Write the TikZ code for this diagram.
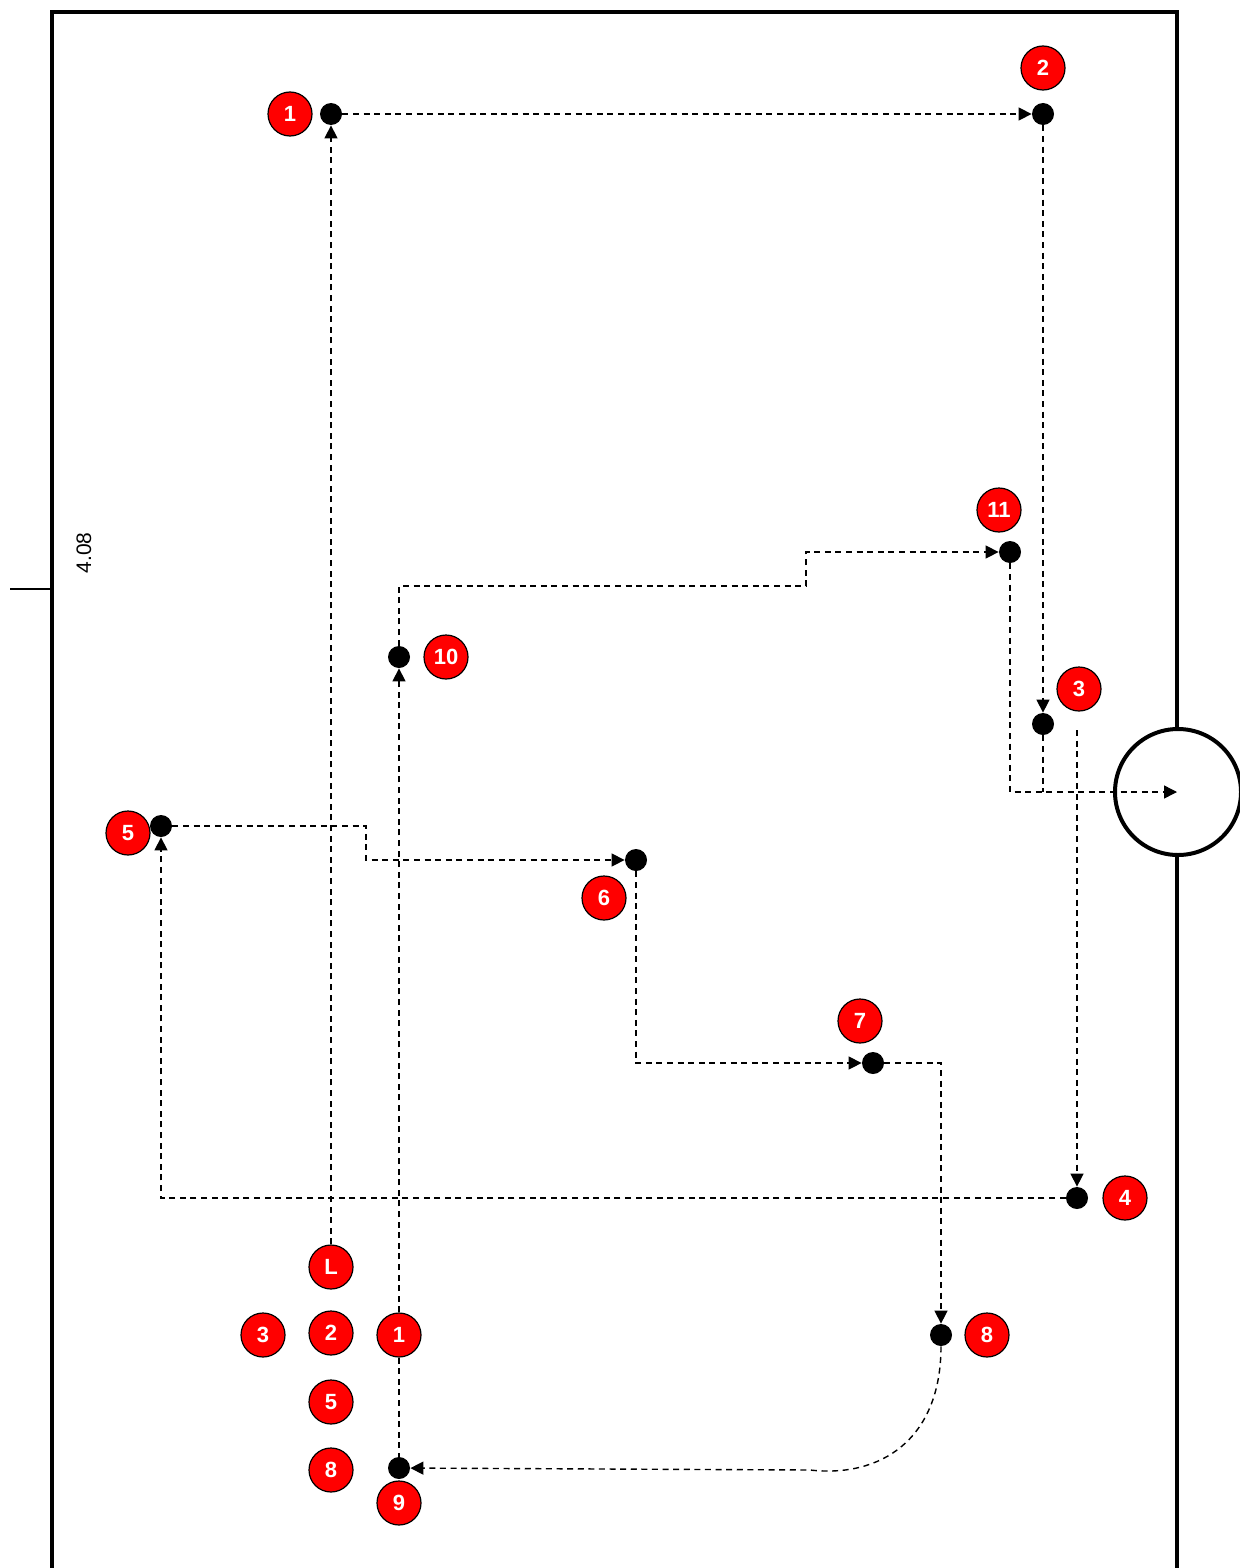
\documentclass[tikz,border=0pt]{standalone}
\usepackage{fontspec}
\setmainfont{Liberation Sans}
\usetikzlibrary{arrows.meta}

\tikzset{
  dot/.style={circle, fill=black, inner sep=0pt, minimum size=11pt},
  num/.style={circle, draw=black, line width=0.6pt, fill=red, text=white,
    font=\fontsize{11}{13}\selectfont\bfseries, inner sep=0pt, minimum size=22pt},
  trail/.style={dash pattern=on 3pt off 2.3pt, line width=0.7pt},
  run/.style={trail, -{Triangle[length=6.5pt,width=6.5pt]}},
}

\begin{document}
\begin{tikzpicture}[x=0.5pt, y=-0.5pt]
\useasboundingbox (0,0) rectangle (1240,1568);
% Field
\draw[line width=2pt] (52,1568) -- (52,12) -- (1177,12) -- (1177,1568);
\draw[line width=1pt] (10,589) -- (52,589);
\node[rotate=90, font=\fontsize{10.5}{12}\selectfont] (len) at (84,553) {4.08};
% Goal
\draw[line width=2pt, fill=white] (1178,792) circle (31.5pt);
\coordinate (goal) at (1177,792);
% Stations
\node[dot] (d1) at (331,114) {};
\node[dot] (d2) at (1043,114) {};
\node[dot] (d3) at (1043,724) {};
\node[dot] (d4) at (1077,1198) {};
\node[dot] (d5) at (161,826) {};
\node[dot] (d6) at (636,860) {};
\node[dot] (d7) at (873,1063) {};
\node[dot] (d8) at (941,1335) {};
\node[dot] (d9) at (399,1468) {};
\node[dot] (d10) at (399,657) {};
\node[dot] (d11) at (1010,552) {};
% Station numbers
\node[num] (n1) at (290,114) {1};
\node[num] (n2) at (1043,68) {2};
\node[num] (n3) at (1079,689) {3};
\node[num] (n4) at (1125,1198) {4};
\node[num] (n5) at (128,833) {5};
\node[num] (n6) at (604,898) {6};
\node[num] (n7) at (860,1021) {7};
\node[num] (n8) at (987,1335) {8};
\node[num] (n9) at (399,1503) {9};
\node[num] (n10) at (446,657) {10};
\node[num] (n11) at (999,510) {11};
% Players
\node[num] (pL) at (331,1267) {L};
\node[num] (p3) at (263,1335) {3};
\node[num] (p2) at (331,1333) {2};
\node[num] (p1) at (399,1335) {1};
\node[num] (p5) at (331,1402) {5};
\node[num] (p8) at (331,1470) {8};
% Runs
\coordinate (s4) at (1077,730);
\draw[run] (pL) -- (d1);
\draw[run] (d1) -- (d2);
\draw[run] (d2) -- (d3);
\draw[run] (s4) -- (d4);
\draw[run] (d4) -| (d5);
\draw[run] (d5) -- (366,826) -- (366,860) -- (d6);
\draw[run] (d6) |- (d7);
\draw[run] (d7) -| (d8);
\draw[run] (d8) .. controls (941,1440) and (880,1478) .. (810,1470) -- (d9);
\draw[trail] (p1) -- (d9);
\draw[run] (p1) -- (d10);
\draw[run] (d10) -- (399,586) -- (806,586) -- (806,552) -- (d11);
\draw[run] (d11) |- (goal);
\draw[trail] (d3) -- (d3 |- goal);
\end{tikzpicture}
\end{document}
